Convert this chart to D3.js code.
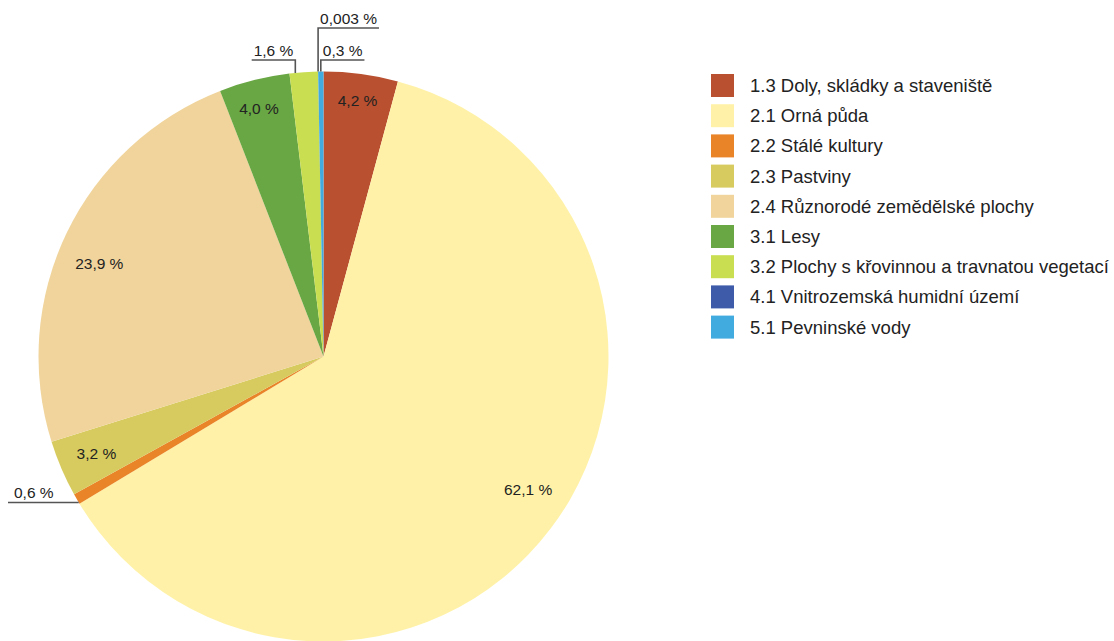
<!DOCTYPE html>
<html>
<head>
<meta charset="utf-8">
<script src="https://cdn.jsdelivr.net/npm/d3@7"></script>
<style>
  body { margin: 0; background: #fff; }
  svg { display: block; font-family: "Liberation Sans", Arial, sans-serif; }
</style>
</head>
<body>
<svg id="chart" width="1114" height="641"></svg>
<script>
// land cover classes (legend order == slice order, clockwise from 12 o'clock)
const categories = [
  "1.3 Doly, skládky a staveniště",
  "2.1 Orná půda",
  "2.2 Stálé kultury",
  "2.3 Pastviny",
  "2.4 Různorodé zemědělské plochy",
  "3.1 Lesy",
  "3.2 Plochy s křovinnou a travnatou vegetací",
  "4.1 Vnitrozemská humidní území",
  "5.1 Pevninské vody"
]
const shares = [4.2, 62.1, 0.6, 3.2, 23.9, 4.0, 1.6, 0.003, 0.3]
const shareLabels = ["4,2 %", "62,1 %", "0,6 %", "3,2 %", "23,9 %", "4,0 %", "1,6 %", "0,003 %", "0,3 %"]
const colors = ["#b9502f", "#fff2a8", "#ea8428", "#d7cb5f", "#f0d49b", "#69a744", "#cade51", "#3e5ba9", "#41aadf"]

// angle tweaks (degrees) for inside labels of the big slices
const labelNudge = [0, -4, 0, 0, -3, -0.5, 0, 0, 0]

// small slices get a leader line instead of an inside label
const callouts = [
  {i: 2, dir: "left", nudge: -0.8},
  {i: 6, dir: "up-left", level: 60, nudge: -1.7},
  {i: 7, dir: "up-right", level: 28, nudge: 0},
  {i: 8, dir: "up-right", level: 60, nudge: 0}
]

const svg = d3.select("#chart")
const cx = 323.5, cy = 356.5, R = 285
const g = svg.append("g").attr("transform", "translate(" + cx + "," + cy + ")")

const pie = d3.pie().sort(null).value(d => d)
const arcs = pie(shares)
const arc = d3.arc().innerRadius(0).outerRadius(R)

g.selectAll("path.slice")
  .data(arcs)
  .enter().append("path")
  .attr("class", "slice")
  .attr("d", arc)
  .attr("fill", (d, i) => colors[i])

const labelFont = 15.5
const calloutIdx = callouts.map(c => c.i)

// inside labels: push the text box outwards along the mid angle until its far corner hits ~0.94R
const inner = g.selectAll("text.inner")
  .data(arcs.filter((d, i) => calloutIdx.indexOf(i) < 0))
  .enter().append("text")
  .attr("class", "inner")
  .attr("font-size", labelFont)
  .attr("fill", "#222")
  .attr("text-anchor", "middle")
  .text(d => shareLabels[d.index])

inner.each(function (d) {
  const w = this.getComputedTextLength()
  const h = labelFont * 0.75
  const a = (d.startAngle + d.endAngle) / 2 + labelNudge[d.index] * Math.PI / 180
  const ux = Math.sin(a), uy = -Math.cos(a)
  const limit = R * 0.94
  let r = 0
  for (let t = 0; t < R; t += 0.5) {
    const px = ux * t + Math.sign(ux) * w / 2
    const py = uy * t + Math.sign(uy) * h / 2
    if (Math.hypot(px, py) > limit) break
    r = t
  }
  d3.select(this)
    .attr("x", ux * r)
    .attr("y", uy * r + h / 2)
})

// callouts
const lineColor = "#555"
callouts.forEach(c => {
  const d = arcs[c.i]
  const a = (d.startAngle + d.endAngle) / 2 + c.nudge * Math.PI / 180
  const ax = Math.sin(a) * R, ay = -Math.cos(a) * R

  const txt = g.append("text")
    .attr("font-size", labelFont)
    .attr("fill", "#222")
    .text(shareLabels[c.i])
  const w = txt.node().getComputedTextLength()

  let pts
  if (c.dir === "left") {
    const x0 = 8 - cx
    pts = [[ax, ay], [x0, ay]]
    txt.attr("x", x0 + 6).attr("y", ay - 4)
  } else {
    const ly = c.level - cy
    const x1 = c.dir === "up-left" ? ax - w - 4 : ax + w + 4
    pts = [[ax, ay], [ax, ly], [x1, ly]]
    txt.attr("x", c.dir === "up-left" ? ax - 2 : ax + 2)
      .attr("y", ly - 4)
      .attr("text-anchor", c.dir === "up-left" ? "end" : "start")
  }
  g.insert("path", "text")
    .attr("d", d3.line()(pts))
    .attr("fill", "none")
    .attr("stroke", lineColor)
    .attr("stroke-width", 1.6)
})

// legend
const legend = svg.append("g").attr("transform", "translate(711,74)")
const rows = legend.selectAll("g.row")
  .data(categories)
  .enter().append("g")
  .attr("class", "row")
  .attr("transform", (d, i) => "translate(0," + i * 30.2 + ")")

rows.append("rect")
  .attr("width", 23)
  .attr("height", 23)
  .attr("fill", (d, i) => colors[i])

rows.append("text")
  .attr("x", 39)
  .attr("y", 18)
  .attr("font-size", 18.5)
  .attr("fill", "#222")
  .text(d => d)
</script>
</body>
</html>
